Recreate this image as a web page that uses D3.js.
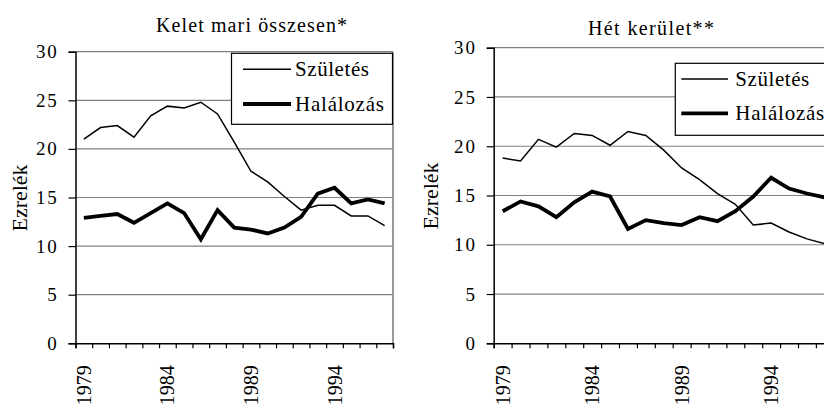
<!DOCTYPE html>
<html>
<head>
<meta charset="utf-8">
<script src="https://cdn.jsdelivr.net/npm/d3@7"></script>
<style>
  body { margin: 0; background: #fff; }
  svg text { font-family: "Liberation Serif", "Times New Roman", Times, "DejaVu Serif", serif; fill: #000; }
</style>
</head>
<body>
<svg width="824" height="405"></svg>
<script>
// Évek (x tengely)
const years = [1979, 1980, 1981, 1982, 1983, 1984, 1985, 1986, 1987, 1988,
               1989, 1990, 1991, 1992, 1993, 1994, 1995, 1996, 1997];
const yearLabels = [1979, 1984, 1989, 1994];
const yTicks = [0, 5, 10, 15, 20, 25, 30];
const seriesNames = ["Születés", "Halálozás"];
const panelTitles = ["Kelet mari összesen*", "Hét kerület**"];

// Kelet mari összesen (ezrelék)
const keletSzuletes = [21.0, 22.2, 22.4, 21.2, 23.4, 24.4, 24.2, 24.8, 23.6, 20.7,
                       17.7, 16.6, 15.1, 13.7, 14.2, 14.2, 13.1, 13.1, 12.1];
const keletHalalozas = [12.9, 13.1, 13.3, 12.4, 13.4, 14.4, 13.4, 10.7, 13.7, 11.9,
                        11.7, 11.3, 11.9, 13.0, 15.4, 16.0, 14.4, 14.8, 14.4];

// Hét kerület (ezrelék)
const hetSzuletes = [18.8, 18.5, 20.7, 19.9, 21.3, 21.1, 20.1, 21.5, 21.1, 19.6,
                     17.8, 16.6, 15.2, 14.1, 12.0, 12.2, 11.3, 10.6, 10.1];
const hetHalalozas = [13.4, 14.4, 13.9, 12.8, 14.3, 15.4, 14.9, 11.6, 12.5, 12.2,
                      12.0, 12.8, 12.4, 13.4, 14.9, 16.8, 15.7, 15.2, 14.8];

const FONT = '"Liberation Serif", "Times New Roman", Times, serif';
const svg = d3.select("svg");

// Elrendezés panelenként
const panels = [
  {
    title: panelTitles[0], titleX: 251.5, titleY: 31.5, titleLen: 191,
    x0: 75.5, x1: 393, yTop: 51.7, yBot: 343.3, yLabelX: 20, border: true,
    legend: { x: 231.5, y: 53.3, w: 161, h: 71, lx0: 243, lx1: 291, tx: 295, rows: [69.3, 104] },
    series: [keletSzuletes, keletHalalozas]
  },
  {
    title: panelTitles[1], titleX: 651, titleY: 35, titleLen: 126,
    x0: 493.7, x1: 833.8, yTop: 47.7, yBot: 343.3, yLabelX: 431, border: false,
    legend: { x: 675.3, y: 63.3, w: 161, h: 72, lx0: 681.3, lx1: 728, tx: 735.3, rows: [79, 113.3] },
    series: [hetSzuletes, hetHalalozas]
  }
];

const lineWidths = [1.5, 3.8];
const legendTextLen = [74, 89];

panels.forEach(p => {
  const g = svg.append("g");

  const x = d3.scaleBand().domain(years).range([p.x0, p.x1]);
  const xEdge = d3.scaleLinear().domain([0, years.length]).range([p.x0, p.x1]);
  const y = d3.scaleLinear().domain([0, 30]).range([p.yBot, p.yTop]);
  const cx = d => x(d) + x.bandwidth() / 2;

  // Rácsvonalak
  g.selectAll(".grid").data(yTicks.filter(t => t > 0)).enter()
    .append("line")
    .attr("x1", p.x0).attr("x2", p.x1)
    .attr("y1", d => y(d)).attr("y2", d => y(d))
    .attr("stroke", "#808080").attr("stroke-width", 1.2);

  if (p.border) {
    g.append("line")
      .attr("x1", p.x1).attr("x2", p.x1)
      .attr("y1", p.yTop).attr("y2", p.yBot)
      .attr("stroke", "#999").attr("stroke-width", 2);
  }

  // Y tengely
  const yAxis = g.append("g")
    .attr("transform", `translate(${p.x0},0)`)
    .call(d3.axisLeft(y).tickValues(yTicks).tickSize(7).tickPadding(10));
  yAxis.attr("font-family", null).attr("font-size", null);
  yAxis.select(".domain").attr("stroke", "#000").attr("stroke-width", 1.5);
  yAxis.selectAll(".tick line").attr("stroke", "#000").attr("stroke-width", 1.2);
  yAxis.selectAll("text")
    .style("font-family", FONT)
    .style("font-size", "19px").attr("letter-spacing", 1.8).attr("fill", "#000");

  // X tengely: osztásjelek a sávhatárokon
  const xAxis = g.append("g")
    .attr("transform", `translate(0,${p.yBot})`)
    .call(d3.axisBottom(xEdge).tickValues(d3.range(0, years.length + 1)).tickSize(5).tickFormat(""));
  xAxis.select(".domain").attr("stroke", "#000").attr("stroke-width", 1.5);
  xAxis.selectAll(".tick line").attr("stroke", "#000").attr("stroke-width", 1.2);

  // Évszámok, függőlegesen
  g.selectAll(".xlab").data(yearLabels).enter()
    .append("text")
    .attr("transform", d => `translate(${cx(d)},${p.yBot + 22}) rotate(-90)`)
    .attr("text-anchor", "end")
    .attr("dy", "0.35em")
    .style("font-family", FONT).style("font-size", "20px")
    .text(d => d);

  // Y tengely címe
  g.append("text")
    .attr("transform", `translate(${p.yLabelX},${(p.yTop + p.yBot) / 2 - 33}) rotate(-90)`)
    .attr("text-anchor", "end")
    .attr("dy", "0.35em")
    .attr("textLength", 67).attr("lengthAdjust", "spacingAndGlyphs")
    .style("font-family", FONT).style("font-size", "20px")
    .text("Ezrelék");

  // Panel címe
  g.append("text")
    .attr("x", p.titleX - p.titleLen / 2).attr("y", p.titleY)
    .style("font-family", FONT).style("font-size", "20px")
    .attr("textLength", p.titleLen).attr("lengthAdjust", "spacing")
    .text(p.title);

  // Vonalak
  const line = d3.line().x((d, i) => cx(years[i])).y(d => y(d));
  p.series.forEach((s, i) => {
    g.append("path")
      .datum(s)
      .attr("d", line)
      .attr("fill", "none")
      .attr("stroke", "#000")
      .attr("stroke-width", lineWidths[i])
      .attr("stroke-linejoin", "miter");
  });

  // Jelmagyarázat
  const L = p.legend;
  g.append("rect")
    .attr("x", L.x).attr("y", L.y).attr("width", L.w).attr("height", L.h)
    .attr("fill", "#fff").attr("stroke", "#000").attr("stroke-width", 1.2);
  seriesNames.forEach((name, i) => {
    g.append("line")
      .attr("x1", L.lx0).attr("x2", L.lx1)
      .attr("y1", L.rows[i]).attr("y2", L.rows[i])
      .attr("stroke", "#000").attr("stroke-width", lineWidths[i]);
    g.append("text")
      .attr("x", L.tx).attr("y", L.rows[i])
      .attr("dy", "0.33em")
      .style("font-family", FONT).style("font-size", "21px")
      .attr("textLength", legendTextLen[i]).attr("lengthAdjust", "spacing")
      .text(name);
  });
});
</script>
</body>
</html>
